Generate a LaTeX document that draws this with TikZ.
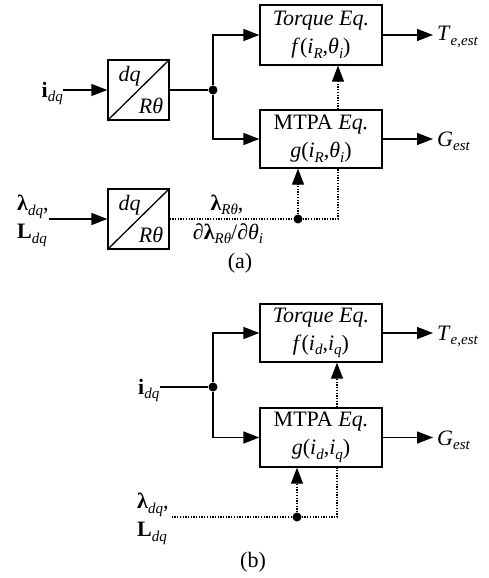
\documentclass[tikz,border=0pt]{standalone}
\usepackage{fontspec}
\setmainfont{Liberation Serif}
\usetikzlibrary{arrows.meta,calc}
% small italic subscript
\newcommand{\sbs}[1]{\raisebox{-4.5pt}{\fontsize{15}{15}\selectfont\itshape #1}}
\begin{document}
\begin{tikzpicture}[x=1pt,y=-1pt,
  every node/.style={font=\fontsize{22}{28}\selectfont, inner sep=0pt},
  blk/.style={draw, line width=1.3pt, minimum width=122pt, minimum height=60pt, align=center},
  conv/.style={draw, line width=1.3pt, minimum width=61pt, minimum height=60pt},
  sig/.style={line width=1.3pt},
  arr/.style={sig, -{Triangle[length=16pt,width=12pt]}},
  dots/.style={line width=1.1pt, dash pattern=on 1.3pt off 1.4pt},
  darr/.style={dots, -{Triangle[length=16pt,width=12pt,sep=0pt]}},
  jdot/.style={circle, fill, minimum size=9pt},
  lbl/.style={anchor=base west, inner xsep=4pt}]
\useasboundingbox (0,0) rectangle (489,578);

% ---------------- (a) ----------------
\node[blk] (tqa) at (321,35) {\textit{Torque Eq.}\\\textit{f}(\textit{i}\sbs{R},\textit{θ}\sbs{i})};
\node[blk, minimum height=58pt] (mta) at (321,139) {MTPA \textit{Eq.}\\\textit{g}(\textit{i}\sbs{R},\textit{θ}\sbs{i})};

\node[conv] (cva) at (138.5,90) {};
\draw[sig] (cva.south west) -- (cva.north east);
\node (cvadq) at (129.5,76) {\textit{dq}};
\node (cvart) at (151,106) {\textit{Rθ}};

\node[conv] (cvb) at (138.5,219) {};
\draw[sig] (cvb.south west) -- (cvb.north east);
\node (cvbdq) at (129.5,205) {\textit{dq}};
\node (cvbrt) at (151,235) {\textit{Rθ}};

\node[anchor=base east] (ia) at (63,97) {\textbf{i}\sbs{dq}};
\node[anchor=west, align=left] (lama) at (17,221) {\textbf{λ}\sbs{dq},\\\textbf{L}\sbs{dq}};

\node[jdot] (ja) at (213,90) {};
\node[jdot] (da) at (298,219) {};

\node[lbl] (tea) at (433,41) {\textit{T}\sbs{e,est}};
\node[lbl] (gea) at (433,146) {\textit{G}\sbs{est}};

\node[anchor=base] (lra) at (227,210) {\textbf{λ}\sbs{Rθ},};
\node[anchor=base] (dra) at (228,239) {∂\textbf{λ}\sbs{Rθ}/∂\textit{θ}\sbs{i}};
\node[anchor=base] (capa) at (240,268) {(a)};

\coordinate (tapa) at ($(mta.south)+(17,0)$);
\coordinate (tupa) at ($(mta.north)+(17,0)$);
\coordinate (tdna) at ($(tqa.south)+(17,0)$);

\draw[arr] (ia.east |- cva.west) -- (cva.west);
\draw[sig] (cva.east) -- (ja);
\draw[arr] (ja) |- (tqa.west);
\draw[arr] (ja) |- (mta.west);
\draw[arr] (tqa.east) -- (tea.west |- tqa.east);
\draw[arr] (mta.east) -- (gea.west |- mta.east);
\draw[arr] (lama.east |- cvb.west) -- (cvb.west);
\draw[dots] (cvb.east) -- (da);
\draw[darr] (da) -- (da |- mta.south);
\draw[dots] (da) -| (tapa);
\draw[darr] (tupa) -- (tdna);

% ---------------- (b) ----------------
\node[blk, minimum height=58pt] (tqb) at (321,333) {\textit{Torque Eq.}\\\textit{f}(\textit{i}\sbs{d},\textit{i}\sbs{q})};
\node[blk, minimum height=59pt] (mtb) at (321,437.5) {MTPA \textit{Eq.}\\\textit{g}(\textit{i}\sbs{d},\textit{i}\sbs{q})};

\node[anchor=base west] (ib) at (138,394) {\textbf{i}\sbs{dq}};
\node[anchor=north west, align=left] (lamb) at (137,493) {\textbf{λ}\sbs{dq},\\\textbf{L}\sbs{dq}};

\node[jdot] (jb) at (213,387) {};
\node[jdot] (db) at (297,517) {};

\node[lbl] (teb) at (433,340) {\textit{T}\sbs{e,est}};
\node[lbl] (geb) at (433,445) {\textit{G}\sbs{est}};
\node[anchor=base] (capb) at (253,567) {(b)};

\coordinate (tapb) at ($(mtb.south)+(16,0)$);
\coordinate (tupb) at ($(mtb.north)+(16,0)$);
\coordinate (tdnb) at ($(tqb.south)+(16,0)$);
\coordinate (lbe) at ($(lamb.north east)+(3,0)$);

\draw[sig] (ib.east |- jb) -- (jb);
\draw[arr] (jb) |- (tqb.west);
\draw[arr] (jb) |- (mtb.west);
\draw[arr] (tqb.east) -- (teb.west |- tqb.east);
\draw[arr] (mtb.east) -- (geb.west |- mtb.east);
\draw[dots] (lbe |- db) -- (db);
\draw[darr] (db) -- (db |- mtb.south);
\draw[dots] (db) -| (tapb);
\draw[darr] (tupb) -- (tdnb);
\end{tikzpicture}
\end{document}
